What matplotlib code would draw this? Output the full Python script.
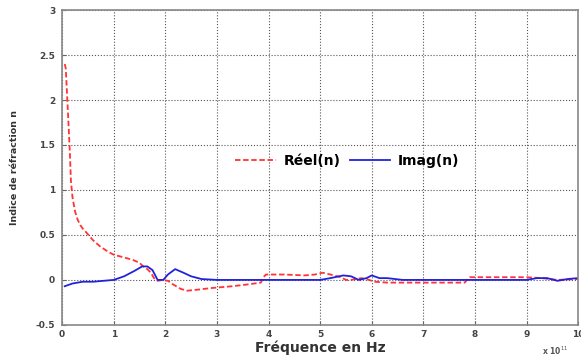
import matplotlib
matplotlib.use("Agg")
import matplotlib.pyplot as plt
import numpy as np

# Frequency in units of 1e11 Hz
freq_reel = [0.05, 0.07, 0.1, 0.13, 0.15, 0.17, 0.2, 0.25, 0.3, 0.35, 0.4, 0.48, 0.6, 0.74, 0.9, 1.0, 1.2, 1.38, 1.5, 1.57,
             1.65, 1.72, 1.78, 1.85, 1.95, 2.05, 2.15, 2.3, 2.42, 2.6, 2.9, 3.3, 3.6, 3.85, 3.9, 3.95, 4.3, 4.7, 4.9, 5.05,
             5.2, 5.4, 5.5, 5.6, 5.8, 5.95, 6.05, 6.3, 7.0, 7.8, 7.85, 7.9, 8.5, 9.0, 9.3, 9.6, 10.0]
reel = [2.4, 2.35, 2.0, 1.65, 1.4, 1.1, 0.92, 0.76, 0.67, 0.61, 0.57, 0.52, 0.44, 0.37, 0.31, 0.28, 0.25, 0.22, 0.19, 0.15,
        0.12, 0.08, 0.02, -0.01, 0.0, -0.01, -0.05, -0.1, -0.12, -0.11, -0.09, -0.07, -0.05, -0.03, 0.03, 0.06, 0.06, 0.05, 0.06, 0.08,
        0.06, 0.03, 0.0, 0.0, 0.02, 0.0, -0.02, -0.03, -0.03, -0.03, 0.0, 0.03, 0.03, 0.03, 0.02, 0.0, 0.01]

freq_imag = [0.05, 0.2, 0.4, 0.6, 0.8, 1.0, 1.2, 1.4, 1.55, 1.65, 1.75, 1.85, 1.96, 2.05, 2.19, 2.35, 2.5, 2.7, 3.0, 4.0,
             5.0, 5.2, 5.45, 5.6, 5.75, 5.9, 6.0, 6.15, 6.3, 6.6, 7.0, 8.0, 9.0, 9.2, 9.4, 9.6, 9.8, 10.0]
imag = [-0.07, -0.04, -0.02, -0.02, -0.01, 0.0, 0.04, 0.1, 0.15, 0.15, 0.11, 0.0, 0.0, 0.06, 0.12, 0.08, 0.04, 0.01, 0.0, 0.0,
        0.0, 0.02, 0.05, 0.04, 0.0, 0.02, 0.05, 0.02, 0.02, 0.0, 0.0, 0.0, 0.0, 0.02, 0.02, -0.01, 0.01, 0.02]

xticks = list(range(0, 11))
yticks = [-0.5, 0, 0.5, 1, 1.5, 2, 2.5, 3]
yticklabels = ["-0.5", "0", "0.5", "1", "1.5", "2", "2.5", "3"]

fig = plt.figure(figsize=(5.81, 3.59), dpi=100)
ax = fig.add_axes([0.107, 0.095, 0.888, 0.877])

ax.plot(freq_reel, reel, color="#ff3333", linestyle="--", linewidth=1.3, dashes=(3, 1.5), label="Réel(n)")
ax.plot(freq_imag, imag, color="#2222dd", linestyle="-", linewidth=1.3, label="Imag(n)")

ax.set_xlim(0, 10)
ax.set_ylim(-0.5, 3)
ax.set_xticks(xticks)
ax.set_xticklabels([str(t) for t in xticks], fontsize=6.5, fontweight="bold", color="#444444")
ax.set_yticks(yticks)
ax.set_yticklabels(yticklabels, fontsize=6.5, fontweight="bold", color="#444444")
ax.tick_params(axis="y", direction="in", length=3, width=0.8, color="#666666", pad=5)
ax.tick_params(axis="x", direction="in", length=3, width=0.8, color="#666666", pad=4)
ax.grid(True, linestyle=":", color="#555555", linewidth=0.8)
for s in ax.spines.values():
    s.set_color("#888888")
    s.set_linewidth(1.2)

ax.set_xlabel("Fréquence en Hz", fontsize=10, fontweight="bold", color="#333333", labelpad=1)
ax.set_ylabel("Indice de réfraction n", fontsize=6.8, fontweight="bold", color="#333333", labelpad=12)
fig.text(0.933, 0.012, r"x 10$^{11}$", fontsize=5.5, fontweight="bold", color="#555555")

leg = ax.legend(loc="center", bbox_to_anchor=(0.553, 0.522), ncol=2, frameon=False,
                prop={"size": 10, "weight": "bold"}, handlelength=2.9, columnspacing=0.65, handletextpad=0.58)

fig.savefig("out.png", dpi=100)
